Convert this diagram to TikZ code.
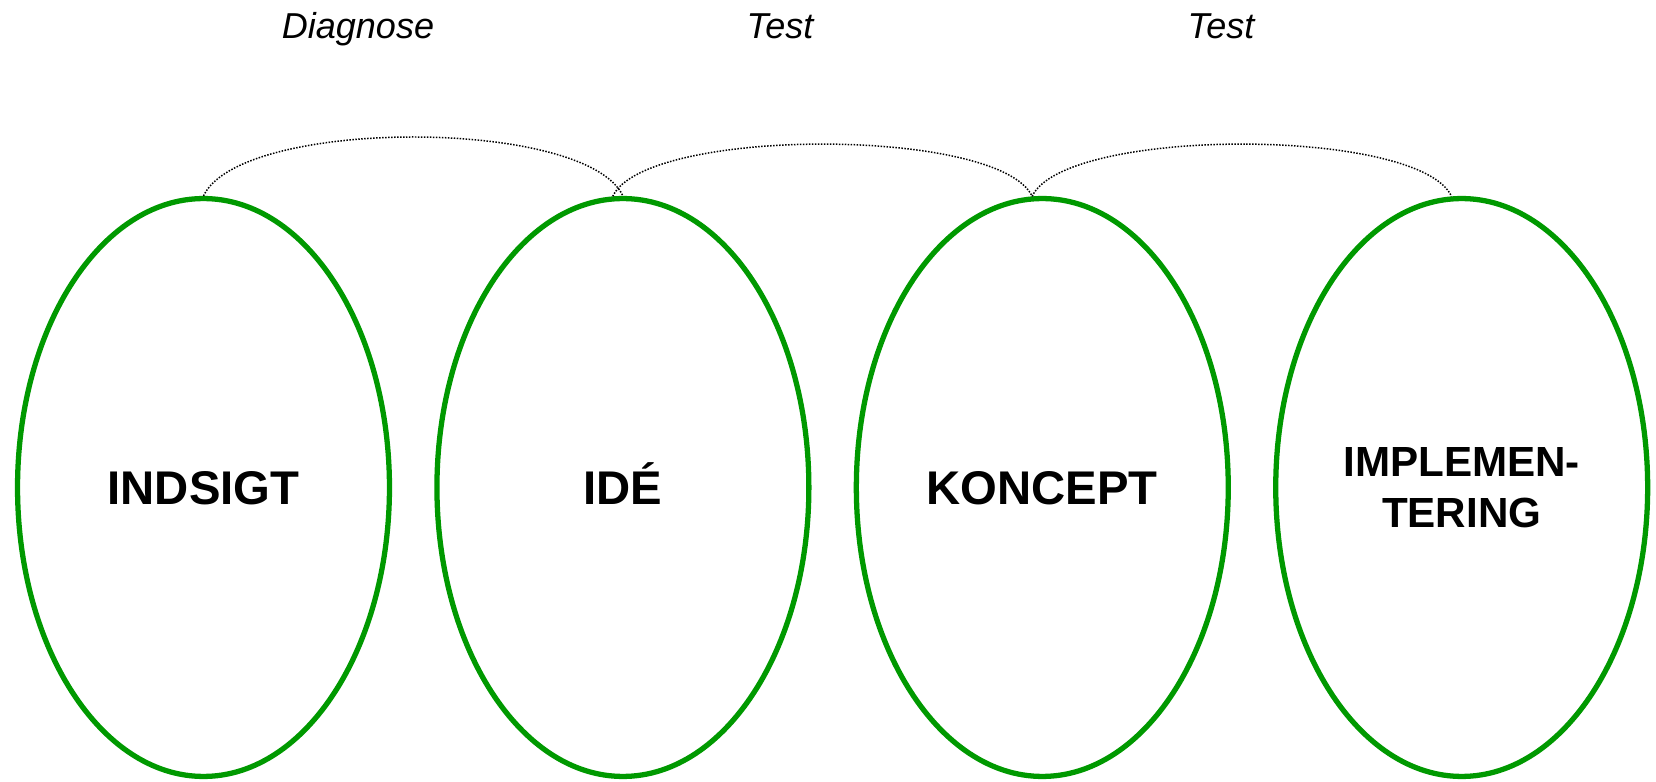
\documentclass[tikz,border=0pt]{standalone}
\usepackage{fontspec}
\setmainfont{Liberation Sans}
\usepackage{xcolor}
\definecolor{verdeFase}{HTML}{009900}
\usepackage{tikz}
\usetikzlibrary{shapes.geometric}

\begin{document}
\begin{tikzpicture}[x=0.02cm,y=0.02cm,
  fase/.style={ellipse,draw=verdeFase,line width=3pt,fill=white,
    minimum width=7.44cm,minimum height=11.56cm,inner sep=0pt,align=center,
    font=\fontsize{26.9}{29}\selectfont\bfseries},
  unalinea/.style={text height=0.68cm,text depth=0pt},
  etiqueta/.style={anchor=base,font=\fontsize{20.5}{24}\selectfont\itshape},
  enlace/.style={line width=0.85pt,dash pattern=on 0.85pt off 0.85pt}]

% Marco
\path[use as bounding box,fill=white] (0,0) rectangle (1656,781);

% Fases
\node[fase,unalinea] (indsigt)  at (203.5,293.5) {INDSIGT};
\node[fase,unalinea] (ide)      at (622.9,293.5) {IDÉ};
\node[fase,unalinea] (koncept)  at (1042.3,293.5) {KONCEPT};
\node[fase,font=\fontsize{24}{29}\selectfont\bfseries]
  (implementering) at (1461.7,293.5) {IMPLEMEN-\\TERING};

% Enlaces
\draw[enlace] (indsigt.north) to[out=65,in=115,looseness=0.53] (ide.north);
\draw[enlace] (ide.92) to[out=65,in=115,looseness=0.47] (koncept.92);
\draw[enlace] (koncept.92) to[out=65,in=115,looseness=0.47] (implementering.92);

% Etiquetas
\node[etiqueta] (diagnose) at (358,742) {Diagnose};
\node[etiqueta] (test1)    at (780,742) {Test};
\node[etiqueta] (test2)    at (1221,742) {Test};

\end{tikzpicture}
\end{document}
